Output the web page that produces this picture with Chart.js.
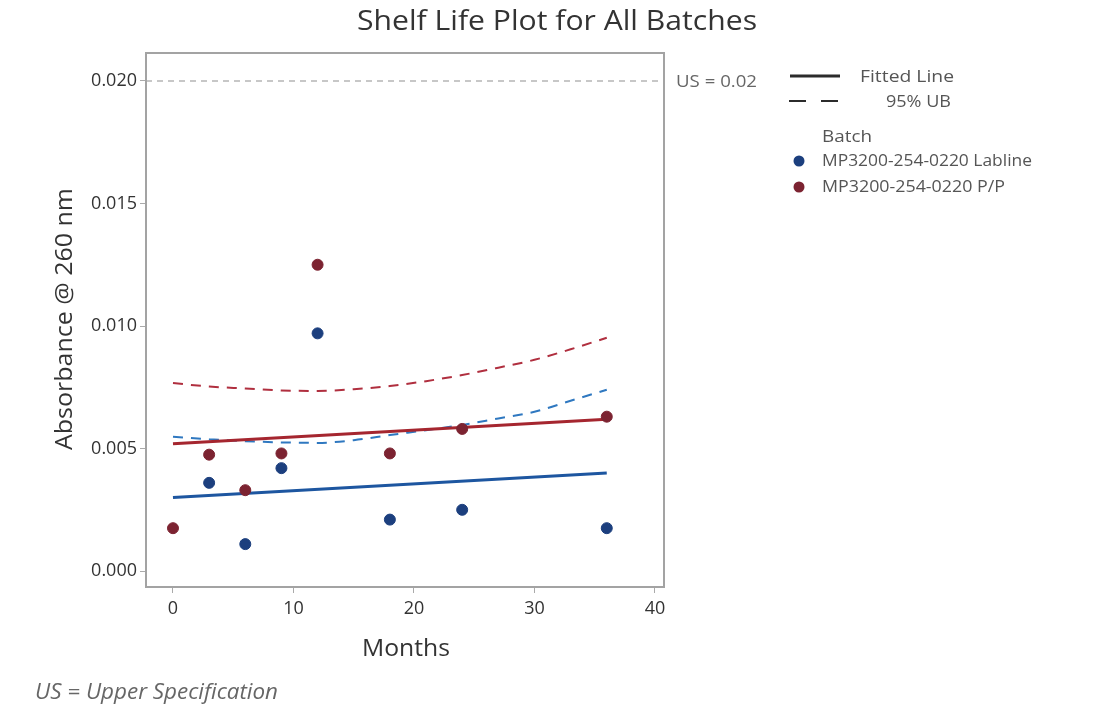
<!DOCTYPE html>
<html>
<head>
<meta charset="utf-8">
<script src="https://cdn.jsdelivr.net/npm/chart.js@4"></script>
<style>
  html, body { margin: 0; padding: 0; background: #fff; }
</style>
</head>
<body>
<canvas id="chart" width="1097" height="711"></canvas>
<script>
// data
const lablineMonths = [3, 6, 9, 12, 18, 24, 36];
const lablineAbs = [0.0036, 0.0011, 0.0042, 0.0097, 0.0021, 0.0025, 0.00175];
const ppMonths = [0, 3, 6, 9, 12, 18, 24, 36];
const ppAbs = [0.00175, 0.00475, 0.0033, 0.0048, 0.0125, 0.0048, 0.0058, 0.0063];

const fitMonths = [0, 36];
const lablineFit = [0.0030, 0.0040];
const ppFit = [0.0052, 0.0062];

const ubMonths = [0, 3, 6, 9, 12, 15, 18, 21, 24, 27, 30, 33, 36];
const lablineUB = [0.00548, 0.00538, 0.0053, 0.00525, 0.00523, 0.00534, 0.00555, 0.00575, 0.00596, 0.00623, 0.0065, 0.00695, 0.0074];
const ppUB = [0.00767, 0.00753, 0.00745, 0.00737, 0.00735, 0.00742, 0.00755, 0.00775, 0.008, 0.0083, 0.00862, 0.00905, 0.00952];

const xTicks = [0, 10, 20, 30, 40];
const yTicks = [0, 0.005, 0.01, 0.015, 0.02];
const specLimit = 0.02;

const font = "'Open Sans', sans-serif";
const blue = "#1c3f7e";
const red = "#7c2331";

const pts = (xs, ys) => xs.map((x, i) => ({ x: x, y: ys[i] }));

// draws text stretched horizontally to a given width (the original font runs wider)
function fitText(ctx, str, x, y, width, align) {
  const w = ctx.measureText(str).width;
  const k = width / w;
  ctx.save();
  ctx.translate(x, y);
  ctx.scale(k, 1);
  ctx.textAlign = align;
  ctx.fillText(str, 0, 0);
  ctx.restore();
}

const decor = {
  id: "decor",
  beforeDatasetsDraw(chart) {
    const { ctx, chartArea: a, scales } = chart;
    const yy = scales.y.getPixelForValue(specLimit);
    ctx.save();
    ctx.strokeStyle = "#b5b5b5";
    ctx.lineWidth = 1.5;
    ctx.setLineDash([6, 5]);
    ctx.beginPath();
    ctx.moveTo(a.left, yy);
    ctx.lineTo(a.right, yy);
    ctx.stroke();
    ctx.restore();
  },
  afterDraw(chart) {
    const { ctx, chartArea: a, scales } = chart;
    ctx.save();
    // frame
    ctx.strokeStyle = "#a3a3a3";
    ctx.lineWidth = 2;
    ctx.strokeRect(a.left, a.top, a.right - a.left, a.bottom - a.top);

    ctx.fillStyle = "#333";
    ctx.textBaseline = "middle";

    // title
    ctx.font = "27px " + font;
    fitText(ctx, "Shelf Life Plot for All Batches", 557, 22, 400, "center");

    // axis titles
    ctx.font = "23px " + font;
    fitText(ctx, "Months", 406, 649, 88, "center");
    ctx.save();
    ctx.translate(65, 319);
    ctx.rotate(-Math.PI / 2);
    fitText(ctx, "Absorbance @ 260 nm", 0, 0, 262, "center");
    ctx.restore();

    // spec label
    ctx.fillStyle = "#666";
    ctx.font = "17px " + font;
    fitText(ctx, "US = 0.02", 676, scales.y.getPixelForValue(specLimit) + 1, 81, "left");

    // legend
    ctx.strokeStyle = "#2b2b2b";
    ctx.lineWidth = 3;
    ctx.beginPath();
    ctx.moveTo(790, 76);
    ctx.lineTo(840, 76);
    ctx.stroke();
    ctx.lineWidth = 2;
    ctx.setLineDash([17, 15]);
    ctx.beginPath();
    ctx.moveTo(789, 101);
    ctx.lineTo(840, 101);
    ctx.stroke();
    ctx.setLineDash([]);

    ctx.fillStyle = "#555";
    ctx.font = "17px " + font;
    fitText(ctx, "Fitted Line", 860, 77, 94, "left");
    fitText(ctx, "95% UB", 886, 102, 65, "left");
    fitText(ctx, "Batch", 822, 137, 50, "left");
    fitText(ctx, "MP3200-254-0220 Labline", 822, 161, 210, "left");
    fitText(ctx, "MP3200-254-0220 P/P", 822, 187, 183, "left");

    ctx.fillStyle = blue;
    ctx.beginPath();
    ctx.arc(799, 161, 5.5, 0, Math.PI * 2);
    ctx.fill();
    ctx.fillStyle = red;
    ctx.beginPath();
    ctx.arc(799, 187, 5.5, 0, Math.PI * 2);
    ctx.fill();

    // footnote
    ctx.fillStyle = "#666";
    ctx.font = "italic 21px " + font;
    fitText(ctx, "US = Upper Specification", 35, 693, 243, "left");
    ctx.restore();
  }
};

new Chart(document.getElementById("chart"), {
  type: "scatter",
  data: {
    datasets: [
      { label: "MP3200-254-0220 Labline", data: pts(lablineMonths, lablineAbs),
        backgroundColor: blue, borderColor: blue, pointRadius: 5.5, pointHoverRadius: 5.5 },
      { label: "MP3200-254-0220 P/P", data: pts(ppMonths, ppAbs),
        backgroundColor: red, borderColor: red, pointRadius: 5.5, pointHoverRadius: 5.5 },
      { label: "Labline fit", data: pts(fitMonths, lablineFit), showLine: true,
        borderColor: "#1d56a0", borderWidth: 3, pointRadius: 0 },
      { label: "P/P fit", data: pts(fitMonths, ppFit), showLine: true,
        borderColor: "#a5262f", borderWidth: 3, pointRadius: 0 },
      { label: "Labline UB", data: pts(ubMonths, lablineUB), showLine: true,
        borderColor: "#2f78c0", borderWidth: 2, borderDash: [10, 8], pointRadius: 0,
        cubicInterpolationMode: "monotone" },
      { label: "P/P UB", data: pts(ubMonths, ppUB), showLine: true,
        borderColor: "#b02f3f", borderWidth: 2, borderDash: [10, 8], pointRadius: 0,
        cubicInterpolationMode: "monotone" }
    ]
  },
  options: {
    responsive: false,
    animation: false,
    devicePixelRatio: 1,
    layout: { padding: { left: 0, right: 433, top: 53, bottom: 0 } },
    plugins: { legend: { display: false }, title: { display: false }, tooltip: { enabled: false } },
    scales: {
      x: {
        type: "linear",
        min: -2.24,
        max: 40.75,
        afterBuildTicks: s => { s.ticks = xTicks.map(v => ({ value: v })); },
        afterFit: s => { s.height = 124; },
        grid: { drawOnChartArea: false, drawTicks: true, tickLength: 6, color: "#aaa" },
        border: { display: false },
        ticks: { color: "#333", font: { family: font, size: 18 }, padding: 5, maxRotation: 0 }
      },
      y: {
        type: "linear",
        min: -0.00065,
        max: 0.02114,
        afterBuildTicks: s => { s.ticks = yTicks.map(v => ({ value: v })); },
        afterFit: s => { s.width = 146; },
        grid: { drawOnChartArea: false, drawTicks: true, tickLength: 6, color: "#aaa" },
        border: { display: false },
        ticks: { color: "#333", font: { family: font, size: 18 }, padding: 3,
                 callback: v => v.toFixed(3) }
      }
    }
  },
  plugins: [decor]
});
</script>
</body>
</html>
